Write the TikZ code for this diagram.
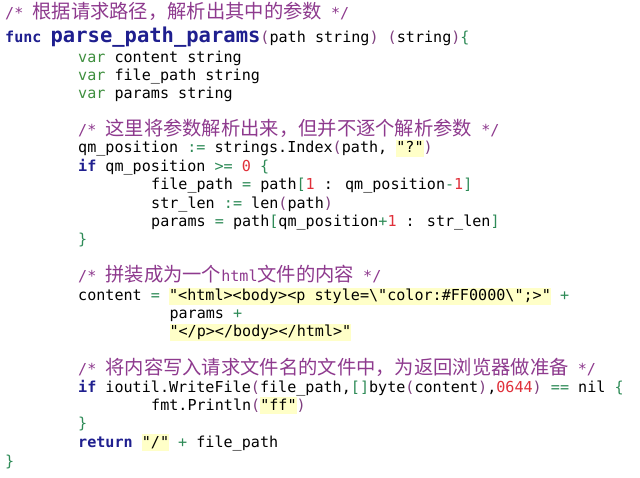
\documentclass[tikz,border=0pt]{standalone}
\usepackage{fontspec}
\newfontfamily\code{DejaVu Sans Mono}
\newfontfamily\cjk{Noto Sans CJK SC}
\definecolor{cmc}{HTML}{8E3A8E}
\definecolor{kwc}{HTML}{1F1F8F}
\definecolor{varc}{HTML}{3F8F3F}
\definecolor{opc}{HTML}{2E8B57}
\definecolor{parc}{HTML}{7F3F7F}
\definecolor{numc}{HTML}{E0303A}
\definecolor{strbg}{HTML}{FFFFC8}
\newcommand\Kw[1]{{\bfseries\color{kwc}#1}}
\newcommand\Va[1]{{\color{varc}#1}}
\newcommand\Op[1]{{\color{opc}#1}}
\newcommand\Pa[1]{{\color{parc}#1}}
\newcommand\Nm[1]{{\color{numc}#1}}
\newcommand\Hl[1]{{\fboxsep=0pt\colorbox{strbg}{\rule[-4pt]{0pt}{17pt}#1}}}
\newcommand\Zh[1]{{\cjk\fontsize{19.3}{20}\selectfont #1}}
\begin{document}
\begin{tikzpicture}[x=1pt,y=-1pt,
  cl/.style={anchor=base west,inner sep=0pt,font=\code\fontsize{15.1}{18}\selectfont},
  cmt/.style={cl,text=cmc}]
\fill[white] (0,0) rectangle (640,478);
\useasboundingbox (0,0) rectangle (640,478);
\def\a{5}\def\b{78}\def\c{151}\def\d{169.3}
\node[cmt] (l0) at (\a,19) {/* \Zh{根据请求路径，解析出其中的参数} */};
\node[cl] (l1) at (\a,43) {\Kw{func} {\bfseries\fontsize{20.5}{21}\selectfont\color{kwc}parse\_path\_params}\Pa{(}path string\Pa{)} \Pa{(}string\Pa{)}\Op{\{}};
\node[cl] (l2) at (\b,63) {\Va{var} content string};
\node[cl] (l3) at (\b,81) {\Va{var} file\_path string};
\node[cl] (l4) at (\b,99) {\Va{var} params string};
\node[cmt] (l6) at (\b,136) {/* \Zh{这里将参数解析出来，但并不逐个解析参数} */};
\node[cl] (l7) at (\b,153) {qm\_position \Op{:=} strings.Index\Pa{(}path, \Hl{"?"}\Pa{)}};
\node[cl] (l8) at (\b,172) {\Kw{if} qm\_position \Op{>=} \Nm{0} \Op{\{}};
\node[cl] (l9) at (\c,190) {file\_path \Op{=} path\Op{[}\Nm{1} : qm\_position\Op{-}\Nm{1}\Op{]}};
\node[cl] (l10) at (\c,209) {str\_len \Op{:=} len\Pa{(}path\Pa{)}};
\node[cl] (l11) at (\c,227) {params \Op{=} path\Op{[}qm\_position\Op{+}\Nm{1} : str\_len\Op{]}};
\node[cl] (l12) at (\b,245) {\Op{\}}};
\node[cmt] (l13) at (\b,282) {/* \Zh{拼装成为一个}html\Zh{文件的内容} */};
\node[cl] (l14) at (\b,301) {content \Op{=} \Hl{"<html><body><p style=\textbackslash"color:\#FF0000\textbackslash";>"} \Op{+}};
\node[cl] (l15) at (\d,319) {params \Op{+}};
\node[cl] (l16) at (\d,337) {\Hl{"</p></body></html>"}};
\node[cmt] (l17) at (\b,374) {/* \Zh{将内容写入请求文件名的文件中，为返回浏览器做准备} */};
\node[cl] (l18) at (\b,392) {\Kw{if} ioutil.WriteFile\Pa{(}file\_path,\Op{[]}byte\Pa{(}content\Pa{)},\Nm{0644}\Pa{)} \Op{==} nil \Op{\{}};
\node[cl] (l19) at (\c,410) {fmt.Println\Pa{(}\Hl{"ff"}\Pa{)}};
\node[cl] (l20) at (\b,428) {\Op{\}}};
\node[cl] (l21) at (\b,447) {\Kw{return} \Hl{"/"} \Op{+} file\_path};
\node[cl] (l22) at (\a,466) {\Op{\}}};
\end{tikzpicture}
\end{document}
